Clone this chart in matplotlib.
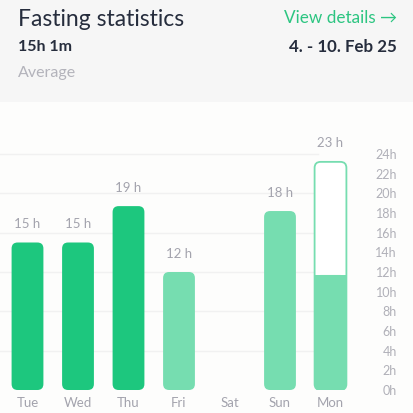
import matplotlib.pyplot as plt
from matplotlib.patches import FancyBboxPatch, Rectangle
from matplotlib.transforms import blended_transform_factory

plt.rcParams["font.family"] = ["Lato", "DejaVu Sans"]

# data
days = ["Tue", "Wed", "Thu", "Fri", "Sat", "Sun", "Mon"]
hours = [15.0, 15.0, 18.7, 12.0, 0.0, 18.2, 23.2]
value_labels = ["15 h", "15 h", "19 h", "12 h", "", "18 h", "23 h"]
elapsed_mon = 11.7  # ongoing fast, part already done
dark_days = ["Tue", "Wed", "Thu"]
y_ticks = list(range(0, 25, 2))
grid_ticks = [4, 8, 12, 16, 20, 24]

DARK = "#1dc77e"
LIGHT = "#76ddb0"
GRAY = "#a3a3ad"
NAVY = "#262d3d"

W, H = 414, 414
fig = plt.figure(figsize=(W / 100, H / 100), dpi=100)
fig.patch.set_facecolor("#fdfdfc")
fig.add_artist(Rectangle((0, 1 - 103 / H), 1, 103 / H, transform=fig.transFigure,
                         facecolor="#f6f6f6", edgecolor="none", zorder=0))

# header
fig.text(18 / W, 1 - 19 / H, "Fasting statistics", fontsize=16.5, color=NAVY,
         va="center", ha="left")
fig.text(397 / W, 1 - 18 / H, "View details \u2192", fontsize=12.3, color="#2cc581",
         va="center", ha="right")
fig.text(18 / W, 1 - 47 / H, "15h 1m", fontsize=11.5, color=NAVY, fontweight="bold",
         va="center", ha="left")
fig.text(397 / W, 1 - 47 / H, "4. - 10. Feb 25", fontsize=12.2, color=NAVY,
         fontweight="bold", va="center", ha="right")
fig.text(18 / W, 1 - 73 / H, "Average", fontsize=11.5, color="#b3b3bb",
         va="center", ha="left")

# chart area: bar centers 27.5 px + 50.5 px per day, 0h at y=391, 24h at y=155
step = 50.5
left = 27.5 - step / 2
bottom = H - 391
px_per_h = (391 - 155) / 24
ax = fig.add_axes([left / W, bottom / H, 7 * step / W, 24 * px_per_h / H])
ax.set_xlim(-0.5, 6.5)
ax.set_ylim(0, 24)
ax.axis("off")

for g in grid_ticks:
    ax.plot([-0.5 - left / step, 5.75], [g, g], color="#f1f1f1", lw=1,
            zorder=0, clip_on=False)

bw = 0.63
r = 6
aspect = step / px_per_h
style = f"round,pad=0,rounding_size={r / step:.3f}"

for i, (d, h) in enumerate(zip(days, hours)):
    if h > 0:
        if d == "Mon":
            ax.add_patch(FancyBboxPatch((i - bw / 2, 0), bw, h, boxstyle=style,
                                        mutation_aspect=aspect, facecolor="white",
                                        edgecolor=LIGHT, lw=1.3, zorder=2))
            ax.add_patch(FancyBboxPatch((i - bw / 2, 0), bw, elapsed_mon, boxstyle=style,
                                        mutation_aspect=aspect, facecolor=LIGHT,
                                        edgecolor="none", zorder=3))
            ax.add_patch(Rectangle((i - bw / 2, elapsed_mon - 1.5), bw, 1.5,
                                   facecolor=LIGHT, edgecolor="none", zorder=3))
        else:
            color = DARK if d in dark_days else LIGHT
            ax.add_patch(FancyBboxPatch((i - bw / 2, 0), bw, h, boxstyle=style,
                                        mutation_aspect=aspect, facecolor=color,
                                        edgecolor="none", zorder=2))
        ax.annotate(value_labels[i], (i, h), xytext=(0, 14), textcoords="offset points",
                    ha="center", va="center", fontsize=9.5, color=GRAY)
    ax.annotate(d, (i, 0), xytext=(0, -8.5), textcoords="offset points",
                ha="center", va="center", fontsize=9.5, color=GRAY)

tr = blended_transform_factory(fig.transFigure, ax.transData)
for t in y_ticks:
    ax.text(397 / W, t, f"{t}h", transform=tr, ha="right", va="center",
            fontsize=9, color="#b0b0b8")

fig.savefig("out.png", dpi=100, facecolor=fig.get_facecolor())
